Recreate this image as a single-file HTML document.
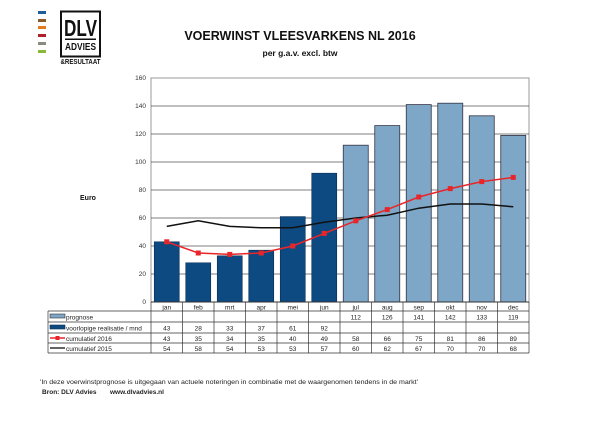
<!DOCTYPE html>
<html><head><meta charset="utf-8"><style>
html,body{margin:0;padding:0;background:#fff;}
svg{display:block;font-family:"Liberation Sans",Arial,sans-serif;}
</style></head><body>
<svg width="600" height="424" viewBox="0 0 600 424" xmlns="http://www.w3.org/2000/svg">
<!-- logo -->
<rect x="38" y="11" width="8" height="3" fill="#1f5d99"/>
<rect x="38" y="19" width="8" height="3" fill="#8a5a2b"/>
<rect x="38" y="26" width="8" height="3" fill="#e07b20"/>
<rect x="38" y="34" width="8" height="3" fill="#b0202a"/>
<rect x="38" y="42" width="8" height="3" fill="#8a8a80"/>
<rect x="38" y="50" width="8" height="3" fill="#8cb83a"/>
<rect x="61" y="11.5" width="39" height="45" fill="none" stroke="#111" stroke-width="2"/>
<text x="80.5" y="36" font-size="23" font-weight="bold" text-anchor="middle" fill="#111" textLength="33" lengthAdjust="spacingAndGlyphs">DLV</text>
<rect x="65" y="38.5" width="31" height="1.5" fill="#111"/>
<text x="80.5" y="50" font-size="10" font-weight="bold" text-anchor="middle" fill="#111" textLength="31" lengthAdjust="spacingAndGlyphs">ADVIES</text>
<text x="80.5" y="64" font-size="7" font-weight="bold" text-anchor="middle" fill="#111" textLength="40" lengthAdjust="spacingAndGlyphs">&amp;RESULTAAT</text>
<!-- titles -->
<text x="300" y="40" font-size="12.5" font-weight="bold" text-anchor="middle" fill="#111">VOERWINST VLEESVARKENS NL 2016</text>
<text x="300" y="56" font-size="8.5" font-weight="bold" text-anchor="middle" fill="#111">per g.a.v. excl. btw</text>
<!-- plot frame -->
<rect x="151" y="78" width="378" height="224" fill="#fff" stroke="#999" stroke-width="1"/>
<g stroke="#555" stroke-width="0.8">
<line x1="151" y1="106" x2="529" y2="106"/>
<line x1="151" y1="134" x2="529" y2="134"/>
<line x1="151" y1="162" x2="529" y2="162"/>
<line x1="151" y1="190" x2="529" y2="190"/>
<line x1="151" y1="218" x2="529" y2="218"/>
<line x1="151" y1="246" x2="529" y2="246"/>
<line x1="151" y1="274" x2="529" y2="274"/>
</g>
<g font-size="6.5" fill="#333" text-anchor="end">
<text x="146" y="80">160</text><text x="146" y="108">140</text><text x="146" y="136">120</text><text x="146" y="164">100</text>
<text x="146" y="192">80</text><text x="146" y="220">60</text><text x="146" y="248">40</text><text x="146" y="276">20</text><text x="146" y="304">0</text>
</g>
<text x="80" y="200" font-size="7" font-weight="bold" fill="#111">Euro</text>
<!-- bars -->
<g fill="#0d4a82" stroke="#0a2f55" stroke-width="0.6">
<rect x="154.25" y="241.8" width="25" height="60.2"/>
<rect x="185.75" y="262.8" width="25" height="39.2"/>
<rect x="217.25" y="255.8" width="25" height="46.2"/>
<rect x="248.75" y="250.2" width="25" height="51.8"/>
<rect x="280.25" y="216.6" width="25" height="85.4"/>
<rect x="311.75" y="173.2" width="25" height="128.8"/>
</g>
<g fill="#7ea6c6" stroke="#334" stroke-width="0.8">
<rect x="343.25" y="145.2" width="25" height="156.8"/>
<rect x="374.75" y="125.6" width="25" height="176.4"/>
<rect x="406.25" y="104.6" width="25" height="197.4"/>
<rect x="437.75" y="103.2" width="25" height="198.8"/>
<rect x="469.25" y="115.8" width="25" height="186.2"/>
<rect x="500.75" y="135.4" width="25" height="166.6"/>
</g>
<!-- lines -->
<polyline fill="none" stroke="#111" stroke-width="1.5" points="166.75,226.4 198.25,220.8 229.75,226.4 261.25,227.8 292.75,227.8 324.25,222.2 355.75,218 387.25,215.2 418.75,208.2 450.25,204 481.75,204 513.25,206.8"/>
<polyline fill="none" stroke="#e8262a" stroke-width="1.5" points="166.75,241.8 198.25,253 229.75,254.4 261.25,253 292.75,246 324.25,233.4 355.75,220.8 387.25,209.6 418.75,197 450.25,188.6 481.75,181.6 513.25,177.4"/>
<g fill="#e8262a">
<rect x="164.25" y="239.3" width="5" height="5"/><rect x="195.75" y="250.5" width="5" height="5"/><rect x="227.25" y="251.9" width="5" height="5"/>
<rect x="258.75" y="250.5" width="5" height="5"/><rect x="290.25" y="243.5" width="5" height="5"/><rect x="321.75" y="230.9" width="5" height="5"/>
<rect x="353.25" y="218.3" width="5" height="5"/><rect x="384.75" y="207.1" width="5" height="5"/><rect x="416.25" y="194.5" width="5" height="5"/>
<rect x="447.75" y="186.1" width="5" height="5"/><rect x="479.25" y="179.1" width="5" height="5"/><rect x="510.75" y="174.9" width="5" height="5"/>
</g>
<line x1="151" y1="302" x2="529" y2="302" stroke="#333" stroke-width="1"/>
<!-- table -->
<g stroke="#333" stroke-width="0.7" fill="none">
<line x1="151" y1="311" x2="529" y2="311"/>
<line x1="48" y1="311" x2="48" y2="353"/>
<line x1="48" y1="311" x2="151" y2="311"/>
<line x1="48" y1="322" x2="529" y2="322"/>
<line x1="48" y1="333" x2="529" y2="333"/>
<line x1="48" y1="343" x2="529" y2="343"/>
<line x1="48" y1="353" x2="529" y2="353"/>
<line x1="529" y1="302" x2="529" y2="353"/>
<line x1="151" y1="302" x2="151" y2="353"/>
<line x1="182.5" y1="302" x2="182.5" y2="353"/><line x1="214" y1="302" x2="214" y2="353"/><line x1="245.5" y1="302" x2="245.5" y2="353"/>
<line x1="277" y1="302" x2="277" y2="353"/><line x1="308.5" y1="302" x2="308.5" y2="353"/><line x1="340" y1="302" x2="340" y2="353"/>
<line x1="371.5" y1="302" x2="371.5" y2="353"/><line x1="403" y1="302" x2="403" y2="353"/><line x1="434.5" y1="302" x2="434.5" y2="353"/>
<line x1="466" y1="302" x2="466" y2="353"/><line x1="497.5" y1="302" x2="497.5" y2="353"/>
</g>
<!-- legend keys -->
<rect x="50" y="314" width="15" height="4" fill="#7ea6c6" stroke="#333" stroke-width="0.6"/>
<rect x="50" y="325" width="15" height="4" fill="#0d4a82" stroke="#0a2f55" stroke-width="0.6"/>
<line x1="50" y1="338" x2="65" y2="338" stroke="#e8262a" stroke-width="1.5"/><rect x="55.5" y="336" width="4" height="4" fill="#e8262a"/>
<line x1="50" y1="348" x2="65" y2="348" stroke="#111" stroke-width="1.3"/>
<g font-size="6.5" fill="#222">
<text x="66" y="319.5">prognose</text>
<text x="66" y="330.5">voorlopige realisatie / mnd</text>
<text x="66" y="341">cumulatief 2016</text>
<text x="66" y="351">cumulatief 2015</text>
</g>
<g font-size="6.5" fill="#222" text-anchor="middle">
<text x="166.75" y="309.5">jan</text><text x="198.25" y="309.5">feb</text><text x="229.75" y="309.5">mrt</text><text x="261.25" y="309.5">apr</text>
<text x="292.75" y="309.5">mei</text><text x="324.25" y="309.5">jun</text><text x="355.75" y="309.5">jul</text><text x="387.25" y="309.5">aug</text>
<text x="418.75" y="309.5">sep</text><text x="450.25" y="309.5">okt</text><text x="481.75" y="309.5">nov</text><text x="513.25" y="309.5">dec</text>
<text x="355.75" y="319.5">112</text><text x="387.25" y="319.5">126</text><text x="418.75" y="319.5">141</text><text x="450.25" y="319.5">142</text><text x="481.75" y="319.5">133</text><text x="513.25" y="319.5">119</text>
<text x="166.75" y="330.5">43</text><text x="198.25" y="330.5">28</text><text x="229.75" y="330.5">33</text><text x="261.25" y="330.5">37</text><text x="292.75" y="330.5">61</text><text x="324.25" y="330.5">92</text>
<text x="166.75" y="341">43</text><text x="198.25" y="341">35</text><text x="229.75" y="341">34</text><text x="261.25" y="341">35</text><text x="292.75" y="341">40</text><text x="324.25" y="341">49</text>
<text x="355.75" y="341">58</text><text x="387.25" y="341">66</text><text x="418.75" y="341">75</text><text x="450.25" y="341">81</text><text x="481.75" y="341">86</text><text x="513.25" y="341">89</text>
<text x="166.75" y="351">54</text><text x="198.25" y="351">58</text><text x="229.75" y="351">54</text><text x="261.25" y="351">53</text><text x="292.75" y="351">53</text><text x="324.25" y="351">57</text>
<text x="355.75" y="351">60</text><text x="387.25" y="351">62</text><text x="418.75" y="351">67</text><text x="450.25" y="351">70</text><text x="481.75" y="351">70</text><text x="513.25" y="351">68</text>
</g>
<!-- footer -->
<text x="40" y="384" font-size="6" fill="#222" textLength="378" lengthAdjust="spacingAndGlyphs">'In deze voerwinstprognose is uitgegaan van actuele noteringen in combinatie met de waargenomen tendens in de markt'</text>
<text x="42" y="394" font-size="6.5" font-weight="bold" fill="#222">Bron: DLV Advies</text>
<text x="110" y="394" font-size="6.5" font-weight="bold" fill="#222">www.dlvadvies.nl</text>
</svg>
</body></html>
